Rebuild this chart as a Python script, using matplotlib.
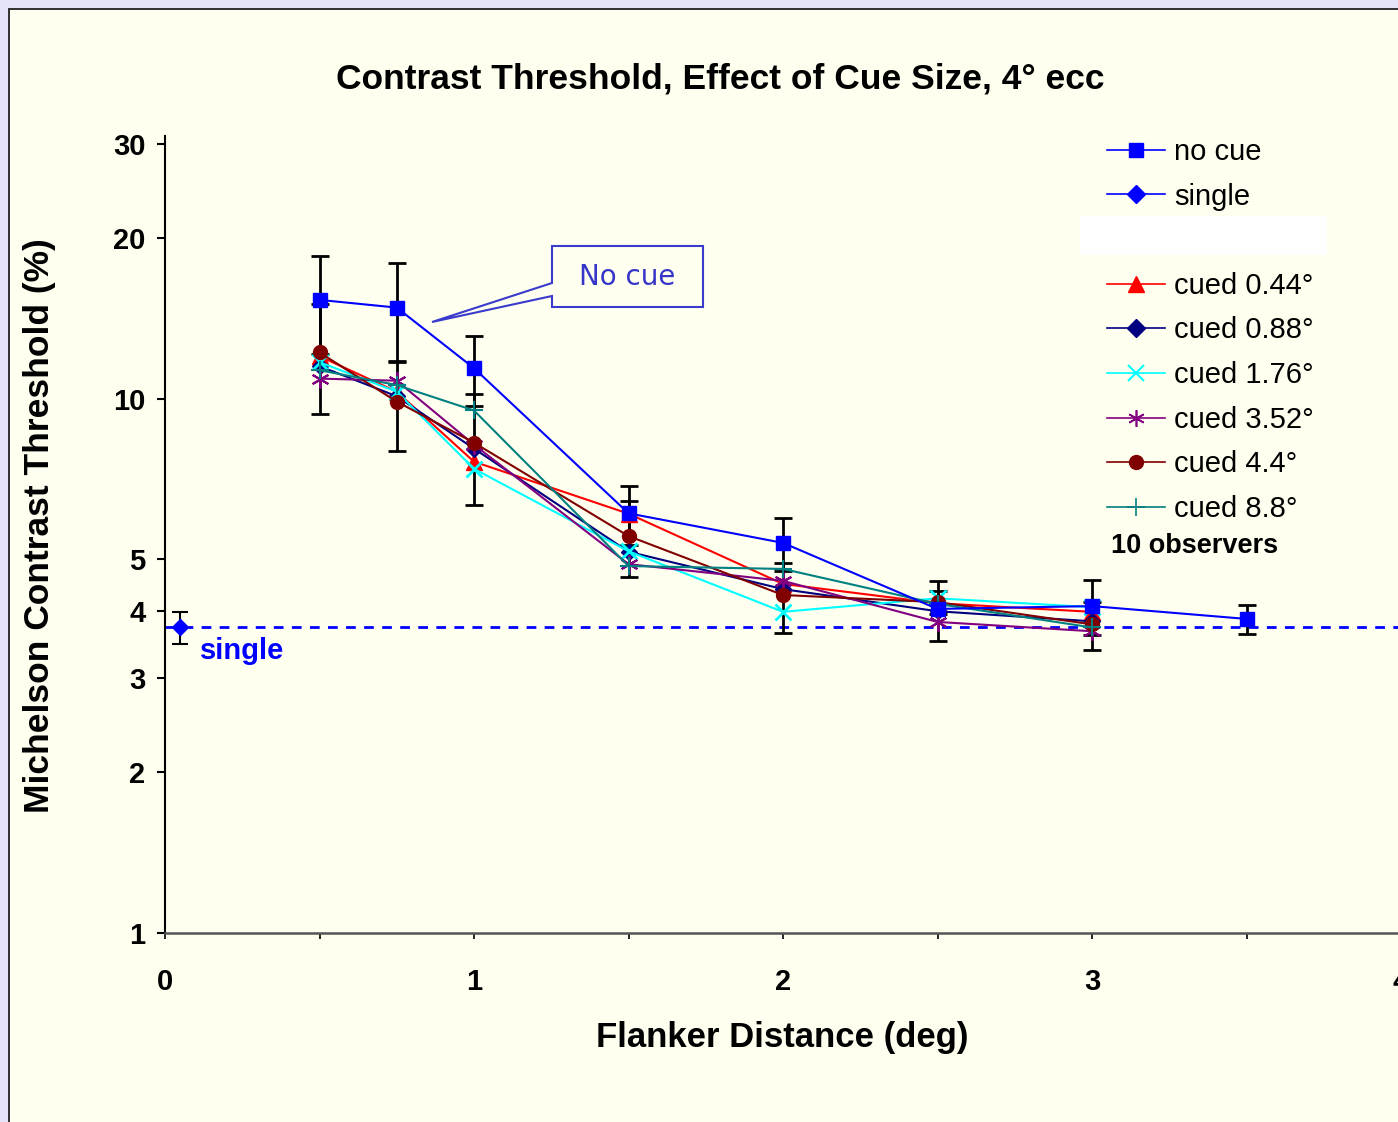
import matplotlib
matplotlib.use('Agg')
import matplotlib.pyplot as plt
from matplotlib.lines import Line2D
from matplotlib.patches import Rectangle, Polygon
from matplotlib.ticker import MultipleLocator, NullLocator

plt.rcParams['font.family'] = ['Liberation Sans', 'DejaVu Sans']

# data
dist = [0.5, 0.75, 1, 1.5, 2, 2.5, 3]
dist_nocue = [0.5, 0.75, 1, 1.5, 2, 2.5, 3, 3.5]
no_cue = [15.3, 14.8, 11.4, 6.1, 5.37, 4.04, 4.09, 3.87]
no_cue_err = [3.2, 3.1, 1.7, 0.77, 0.61, 0.52, 0.48, 0.24]
single_x = [0.05]
single = [3.73]
single_err = [0.25]
cued_044 = [12.0, 10.3, 7.62, 6.09, 4.50, 4.14, 3.99]
cued_088 = [11.5, 10.1, 8.06, 5.17, 4.40, 4.00, 3.83]
cued_176 = [11.7, 10.3, 7.39, 5.18, 3.99, 4.23, 4.07]
cued_352 = [10.9, 10.8, 8.2, 4.90, 4.56, 3.82, 3.67]
cued_44 = [12.2, 9.87, 8.27, 5.53, 4.29, 4.16, 3.78]
cued_44_err = [2.85, 1.9, 1.95, 0.9, 0.64, 0.21, 0.39]
cued_88 = [11.3, 10.6, 9.5, 4.86, 4.80, 4.13, 3.73]

yticks = [1, 2, 3, 4, 5, 10, 20, 30]
xticks = [0, 1, 2, 3, 4]

W, H = 1398, 1122
def fx(px):
    return px / W
def fy(py):
    return 1 - py / H

bg = '#fffff0'
fig = plt.figure(figsize=(W / 100, H / 100), dpi=100)
fig.patch.set_facecolor('#e4e4f6')
fig.patches.append(Rectangle((fx(9), -0.02), 1.0, fy(9) + 0.02, transform=fig.transFigure,
                             facecolor=bg, edgecolor='#222222', lw=1.3, zorder=-10))

ax = fig.add_axes([fx(165), fy(933), fx(1401) - fx(165), fy(136) - fy(933)])
ax.patch.set_visible(False)

# error bars first
ax.errorbar(dist_nocue, no_cue, yerr=no_cue_err, fmt='none', ecolor='black',
            elinewidth=2, capsize=6.5, capthick=2, zorder=2)
ax.errorbar(dist, cued_44, yerr=cued_44_err, fmt='none', ecolor='black',
            elinewidth=2, capsize=6.5, capthick=2, zorder=2)
ax.errorbar(single_x, single, yerr=single_err, fmt='none', ecolor='black',
            elinewidth=1.5, capsize=6, capthick=1.5, zorder=2)

ax.axhline(single[0], color='#0000ff', ls=(0, (3.5, 3)), lw=2, zorder=1)

lw = 1.5
ax.plot(dist_nocue, no_cue, color='#0000ff', marker='s', ms=10, lw=lw, zorder=4)
ax.plot(single_x, single, color='#0000ff', marker='D', ms=8, lw=lw, zorder=4)
ax.plot(dist, cued_044, color='#ff0000', marker='^', ms=11, lw=lw, zorder=3)
ax.plot(dist, cued_088, color='#000080', marker='D', ms=8, lw=lw, zorder=3)
ax.plot(dist, cued_176, color='#00ffff', marker='x', ms=12, mew=2, lw=lw, zorder=3)
ax.plot(dist, cued_352, color='#800080', marker=(6, 2, 0), ms=13, mew=1.5, lw=lw, zorder=3)
ax.plot(dist, cued_44, color='#800000', marker='o', ms=10, lw=lw, zorder=3)
ax.plot(dist, cued_88, color='#008080', marker='+', ms=13, mew=1.5, lw=lw, zorder=3)

ax.set_yscale('log')
ax.set_ylim(1, 31)
ax.set_xlim(0, 4)
ax.set_yticks(yticks)
ax.set_yticklabels([str(t) for t in yticks])
ax.yaxis.set_minor_locator(NullLocator())
ax.set_xticks(xticks)
ax.set_xticklabels([str(t) for t in xticks])
ax.xaxis.set_minor_locator(MultipleLocator(0.5))
ax.tick_params(axis='y', which='major', length=6, width=1.5, pad=8, labelsize=21)
ax.tick_params(axis='x', which='both', length=4, width=1.2, pad=21, labelsize=21)
for lab in ax.get_xticklabels() + ax.get_yticklabels():
    lab.set_fontweight('bold')
for s in ['top', 'right']:
    ax.spines[s].set_visible(False)
ax.spines['left'].set_linewidth(1.5)
ax.spines['left'].set_color('black')
ax.spines['bottom'].set_linewidth(1.8)
ax.spines['bottom'].set_color('#555555')

fig.text(fx(720), fy(79), 'Contrast Threshold, Effect of Cue Size, 4\u00b0 ecc',
         ha='center', va='center', fontsize=25.5, fontweight='bold')
fig.text(fx(40), fy(526), 'Michelson Contrast Threshold (%)', rotation=90,
         ha='center', va='center', fontsize=25.5, fontweight='bold')
fig.text(fx(782), fy(1037), 'Flanker Distance (deg)',
         ha='center', va='center', fontsize=25, fontweight='bold')
fig.text(fx(200), fy(651), 'single', color='#0000ff', ha='left', va='center',
         fontsize=21, fontweight='bold')

# legend
handles = [
    Line2D([], [], color='#0000ff', marker='s', ms=10, lw=1.2),
    Line2D([], [], color='#0000ff', marker='D', ms=9, lw=1.2),
    Line2D([], [], color='none'),
    Line2D([], [], color='#ff0000', marker='^', ms=11, lw=1.2),
    Line2D([], [], color='#000080', marker='D', ms=9, lw=1.2),
    Line2D([], [], color='#00ffff', marker='x', ms=11, mew=1.5, lw=1.2),
    Line2D([], [], color='#800080', marker=(6, 2, 0), ms=12, mew=1.2, lw=1.2),
    Line2D([], [], color='#800000', marker='o', ms=10, lw=1.2),
    Line2D([], [], color='#008080', marker='+', ms=13, mew=1.2, lw=1.2),
]
labels = ['no cue', 'single', ' ', 'cued 0.44\u00b0', 'cued 0.88\u00b0', 'cued 1.76\u00b0',
          'cued 3.52\u00b0', 'cued 4.4\u00b0', 'cued 8.8\u00b0']
fig.legend(handles, labels, loc='upper left', bbox_to_anchor=(fx(1107), fy(138)),
           frameon=False, fontsize=21, handlelength=2.0, handletextpad=0.3,
           labelspacing=0.57, borderpad=0, borderaxespad=0)
fig.patches.append(Rectangle((fx(1080), fy(255)), fx(1327) - fx(1080), fy(216) - fy(255),
                             transform=fig.transFigure, facecolor='white', edgecolor='none', zorder=6))
fig.text(fx(1111), fy(546), '10 observers', ha='left', va='center', fontsize=19.5, fontweight='bold')

# "No cue" callout
pts = [(552, 283), (552, 246), (703, 246), (703, 307), (552, 307), (552, 296), (432, 322)]
fig.patches.append(Polygon([(fx(a), fy(b)) for a, b in pts], closed=True, transform=fig.transFigure,
                           facecolor=bg, edgecolor='#3a3acc', lw=1.5, zorder=7))
fig.text(fx(627), fy(277), 'No cue', ha='center', va='center', color='#3535c8',
         fontsize=20, family='DejaVu Sans', zorder=8)

fig.savefig('out.png', dpi=100, facecolor=fig.get_facecolor())
